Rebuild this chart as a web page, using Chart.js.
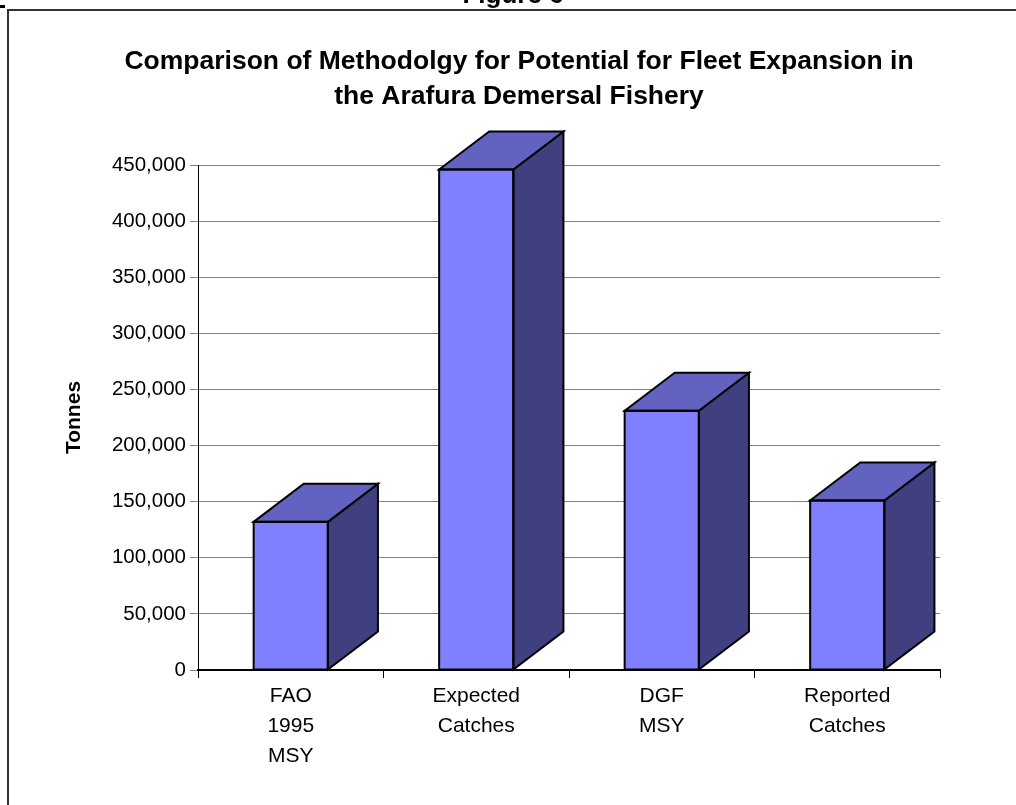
<!DOCTYPE html>
<html>
<head>
<meta charset="utf-8">
<script src="https://cdn.jsdelivr.net/npm/chart.js@4/dist/chart.umd.min.js"></script>
<style>
  html, body { margin: 0; padding: 0; background: #fff; }
  canvas { display: block; }
</style>
</head>
<body>
<canvas id="chart" width="1016" height="805"></canvas>
<script>
// Categories (multi-line axis labels) and the tonnage for each method
const categories = [
  ['FAO', '1995', 'MSY'],
  ['Expected', 'Catches'],
  ['DGF', 'MSY'],
  ['Reported', 'Catches']
];
const tonnes = [132000, 446000, 231000, 151000];

// Value-axis ticks
const yTicks = [0, 50000, 100000, 150000, 200000, 250000, 300000, 350000, 400000, 450000];

const figureLabel = 'Figure 6';
const chartTitle = [
  'Comparison of Methodolgy for Potential for Fleet Expansion in',
  'the Arafura Demersal Fishery'
];
const axisTitle = 'Tonnes';

const FONT = '"Liberation Sans", Arial, Helvetica, sans-serif';
Chart.defaults.font.family = FONT;
Chart.defaults.color = '#000';

const frontColor = '#8080ff';
const topColor = '#6262c0';
const sideColor = '#404080';

// Page frame, cut-off figure caption, chart heading, white background
const pageFrame = {
  id: 'pageFrame',
  beforeDraw(chart) {
    const ctx = chart.ctx;
    ctx.save();
    ctx.fillStyle = '#fff';
    ctx.fillRect(0, 0, chart.width, chart.height);
    ctx.strokeStyle = '#333';
    ctx.lineWidth = 2;
    ctx.beginPath();
    ctx.moveTo(8, chart.height);
    ctx.lineTo(8, 10);
    ctx.lineTo(chart.width, 10);
    ctx.stroke();
    ctx.fillStyle = '#000';
    ctx.fillRect(0, 5, 5, 3);
    ctx.textAlign = 'center';
    ctx.textBaseline = 'alphabetic';
    ctx.font = 'bold 26px ' + FONT;
    ctx.fillText(figureLabel, 513, 3);
    // heading, centred over the figure
    ctx.textBaseline = 'middle';
    ctx.font = 'bold 26.5px ' + FONT;
    chartTitle.forEach((line, i) => ctx.fillText(line, 519, 62 + i * 35));
    ctx.restore();
  }
};

// Adds the top and side faces that give each column its box look
const boxDepth = {
  id: 'boxDepth',
  afterDatasetsDraw(chart) {
    const ctx = chart.ctx;
    chart.getDatasetMeta(0).data.forEach(bar => {
      const { x, y, base, width } = bar.getProps(['x', 'y', 'base', 'width'], true);
      const l = x - width / 2;
      const r = x + width / 2;
      const dx = width * 0.675;
      const dy = dx * 0.76;
      ctx.save();
      ctx.lineWidth = 2;
      ctx.strokeStyle = '#000';
      ctx.lineJoin = 'miter';
      // side face
      ctx.beginPath();
      ctx.moveTo(r, y);
      ctx.lineTo(r + dx, y - dy);
      ctx.lineTo(r + dx, base - dy);
      ctx.lineTo(r, base);
      ctx.closePath();
      ctx.fillStyle = sideColor;
      ctx.fill();
      ctx.stroke();
      // top face
      ctx.beginPath();
      ctx.moveTo(l, y);
      ctx.lineTo(l + dx, y - dy);
      ctx.lineTo(r + dx, y - dy);
      ctx.lineTo(r, y);
      ctx.closePath();
      ctx.fillStyle = topColor;
      ctx.fill();
      ctx.stroke();
      // front outline
      ctx.strokeRect(l, y, width, base - y);
      ctx.restore();
    });
  }
};

new Chart(document.getElementById('chart'), {
  type: 'bar',
  data: {
    labels: categories,
    datasets: [{
      data: tonnes,
      backgroundColor: frontColor,
      borderColor: '#000',
      borderWidth: 0,
      categoryPercentage: 1,
      barPercentage: 0.4,
      clip: false
    }]
  },
  options: {
    responsive: false,
    animation: false,
    layout: { padding: { left: 0, right: 76, top: 165, bottom: 0 } },
    plugins: {
      legend: { display: false },
      tooltip: { enabled: false },
      title: { display: false }
    },
    scales: {
      x: {
        afterFit: s => { s.height = 135; },
        border: { color: '#000', width: 2 },
        grid: { display: true, drawOnChartArea: false, drawTicks: true, tickLength: 8, color: '#000', offset: true },
        ticks: { color: '#000', font: { size: 21, lineHeight: '30px' }, padding: 3, maxRotation: 0, autoSkip: false }
      },
      y: {
        min: 0,
        max: 450000,
        afterBuildTicks: s => { s.ticks = yTicks.map(v => ({ value: v })); },
        afterFit: s => { s.width = 198; },
        border: { color: '#000', width: 1 },
        grid: { color: '#808080', lineWidth: 1, tickLength: 8 },
        ticks: { color: '#000', font: { size: 20.5 }, padding: 4, callback: v => Number(v).toLocaleString('en-US') },
        title: { display: true, text: axisTitle, color: '#000', font: { size: 21, weight: 'bold' }, padding: { top: 62, bottom: 0 } }
      }
    }
  },
  plugins: [pageFrame, boxDepth]
});
</script>
</body>
</html>
